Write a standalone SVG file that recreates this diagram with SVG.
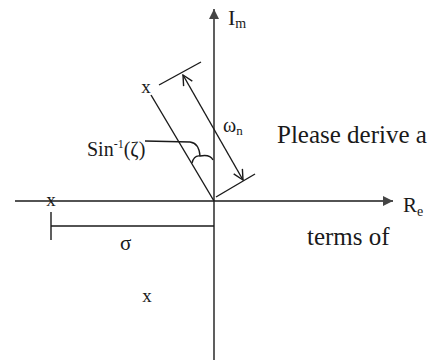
<svg xmlns="http://www.w3.org/2000/svg" width="440" height="360" viewBox="0 0 440 360">
<style>
.ln{stroke:#1a1a1a;stroke-width:1.4;fill:none}
.t{font-family:"Liberation Serif","Times New Roman",serif;fill:#1a1a1a}
</style>
<defs>
<marker id="fa" viewBox="0 0 10 10" refX="10" refY="5" markerWidth="10" markerHeight="10" markerUnits="userSpaceOnUse" orient="auto">
<path d="M0,0 L10,5 L0,10 Z" fill="#444"/>
</marker>
<marker id="oa" viewBox="0 0 12 12" refX="11" refY="6" markerWidth="12" markerHeight="12" markerUnits="userSpaceOnUse" orient="auto-start-reverse">
<path d="M1,1 L11,6 L1,11" fill="none" stroke="#1a1a1a" stroke-width="1.4"/>
</marker>
</defs>
<rect width="440" height="360" fill="#fff"/>
<g id="connectors">
<line class="ln" x1="214" y1="360" x2="214" y2="9" marker-end="url(#fa)"/>
<line class="ln" x1="15" y1="201" x2="393" y2="201" marker-end="url(#fa)"/>
<line class="ln" x1="151" y1="95" x2="214" y2="201"/>
<line class="ln" x1="159" y1="85" x2="201" y2="62"/>
<line class="ln" x1="216" y1="197" x2="255" y2="174"/>
<line class="ln" x1="183" y1="75" x2="243" y2="180" marker-start="url(#oa)" marker-end="url(#oa)"/>
<line class="ln" x1="51" y1="212" x2="51" y2="240"/>
<line class="ln" x1="51" y1="226" x2="214" y2="226"/>
<path class="ln" d="M192,163 Q194,155 200,156 Q210,154 213,160"/>
<path class="ln" d="M145,141 L190,142 Q199,143 200,156"/>
</g>
<g id="labels">
<text class="t" x="228" y="25" font-size="22">I<tspan font-size="14" dy="3">m</tspan></text>
<text class="t" x="403" y="212" font-size="21">R<tspan font-size="14" dy="4">e</tspan></text>
<text class="t" x="223" y="132" font-size="20">ω<tspan font-size="13" dy="3">n</tspan></text>
<text class="t" x="87" y="156" font-size="20">Sin<tspan font-size="12" dy="-8">-1</tspan><tspan dy="8">(ζ)</tspan></text>
<text class="t" x="277" y="143" font-size="25">Please derive a</text>
<text class="t" x="307" y="245" font-size="25">terms of</text>
<text class="t" x="120" y="250" font-size="21">σ</text>
</g>
<g id="poles">
<text class="t" x="146" y="93" font-size="19" text-anchor="middle">x</text>
<text class="t" x="51" y="206" font-size="19" text-anchor="middle">x</text>
<text class="t" x="147" y="302" font-size="19" text-anchor="middle">x</text>
</g>
</svg>
